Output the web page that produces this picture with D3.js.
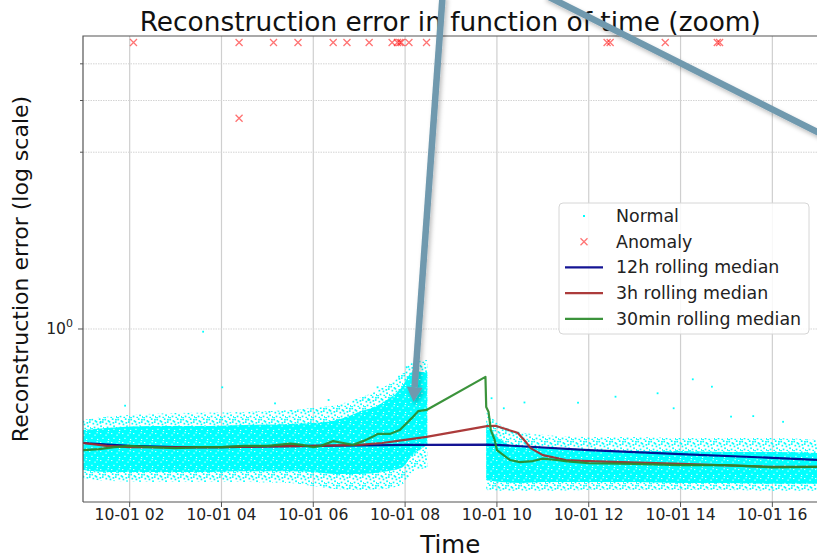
<!DOCTYPE html>
<html>
<head>
<meta charset="utf-8">
<script src="https://cdn.jsdelivr.net/npm/d3@7"></script>
<style>
  body { margin: 0; background: #fff; }
  svg { display: block; font-family: "DejaVu Sans", sans-serif; }
</style>
</head>
<body>
<svg id="chart" width="817" height="558"></svg>
<script>
// ---- data -------------------------------------------------------------
const timeDomain = ["10-01 00:59", "10-01 16:59"];
const xTickTimes = ["10-01 02:00", "10-01 04:00", "10-01 06:00", "10-01 08:00",
                    "10-01 10:00", "10-01 12:00", "10-01 14:00", "10-01 16:00"];
const yDomain = [0.2575, 9.95];
const yMajorTicks = [1];
const yMinorTicks = [4, 6, 8];

// envelope of the dense cloud of normal points (null = no data)
const cloudTimes = ["10-01 00:59", "10-01 01:30", "10-01 02:30", "10-01 03:30", "10-01 04:30",
                    "10-01 05:30", "10-01 06:00", "10-01 06:30", "10-01 07:00", "10-01 07:30",
                    "10-01 07:55", "10-01 08:10", "10-01 08:29", "10-01 08:30",
                    "10-01 09:46", "10-01 10:05", "10-01 10:30", "10-01 11:00", "10-01 12:00",
                    "10-01 13:00", "10-01 14:00", "10-01 15:00", "10-01 16:00", "10-01 16:59"];
const cloudOuterHigh = [0.490, 0.502, 0.514, 0.518, 0.522, 0.530, 0.538, 0.551, 0.582, 0.630,
                        0.697, 0.772, 0.784, null,
                        0.522, 0.471, 0.446, 0.436, 0.429, 0.429, 0.425, 0.425, 0.425, 0.419];
const cloudCoreHigh  = [0.453, 0.460, 0.467, 0.467, 0.471, 0.475, 0.478, 0.490, 0.522, 0.560,
                        0.630, 0.714, 0.714, null,
                        0.471, 0.419, 0.396, 0.393, 0.387, 0.384, 0.384, 0.381, 0.381, 0.378];
const cloudCoreLow   = [0.331, 0.326, 0.326, 0.326, 0.328, 0.328, 0.326, 0.321, 0.321, 0.326,
                        0.336, 0.372, 0.403, null,
                        0.306, 0.301, 0.299, 0.301, 0.301, 0.301, 0.299, 0.299, 0.297, 0.297];
const cloudOuterLow  = [0.311, 0.304, 0.301, 0.301, 0.301, 0.299, 0.292, 0.285, 0.283, 0.285,
                        0.294, 0.326, 0.336, null,
                        0.283, 0.281, 0.281, 0.281, 0.283, 0.283, 0.283, 0.283, 0.281, 0.281];

// isolated normal points away from the cloud
const outlierTimes  = ["10-01 01:22", "10-01 01:54", "10-01 03:36", "10-01 04:01", "10-01 05:10",
                       "10-01 06:20", "10-01 07:12", "10-01 07:24", "10-01 07:52", "10-01 08:02",
                       "10-01 08:22", "10-01 09:53", "10-01 10:09", "10-01 10:36", "10-01 11:46",
                       "10-01 12:35", "10-01 13:30", "10-01 13:51", "10-01 14:16", "10-01 14:41",
                       "10-01 15:06", "10-01 15:35", "10-01 16:14"];
const outlierValues = [0.483, 0.548, 0.979, 0.633, 0.558,
                       0.573, 0.573, 0.633, 0.688, 0.741,
                       0.705, 0.581, 0.537, 0.562, 0.561,
                       0.588, 0.604, 0.537, 0.674, 0.636,
                       0.503, 0.505, 0.483];

// anomalies
const anomalyTimes  = ["10-01 02:05", "10-01 04:23", "10-01 04:23", "10-01 05:08", "10-01 05:40",
                       "10-01 06:26", "10-01 06:44", "10-01 07:13", "10-01 07:43", "10-01 07:50",
                       "10-01 07:53", "10-01 07:55", "10-01 08:05", "10-01 08:28", "10-01 12:24",
                       "10-01 12:28", "10-01 13:40", "10-01 14:48", "10-01 14:51"];
const anomalyValues = [9.46, 9.46, 5.22, 9.46, 9.46,
                       9.46, 9.46, 9.46, 9.46, 9.46,
                       9.46, 9.46, 9.46, 9.46, 9.46,
                       9.46, 9.46, 9.46, 9.46];

// rolling medians
const median12hTimes  = ["10-01 00:59", "10-01 02:00", "10-01 03:00", "10-01 04:00", "10-01 05:00",
                         "10-01 06:00", "10-01 07:00", "10-01 08:00", "10-01 08:28", "10-01 09:47",
                         "10-01 10:00", "10-01 12:00", "10-01 14:00", "10-01 16:00", "10-01 16:59"];
const median12hValues = [0.409, 0.400, 0.396, 0.396, 0.398,
                         0.400, 0.401, 0.403, 0.403, 0.404,
                         0.403, 0.387, 0.375, 0.364, 0.358];

const median3hTimes  = ["10-01 00:59", "10-01 01:30", "10-01 02:00", "10-01 03:00", "10-01 04:00",
                        "10-01 05:00", "10-01 06:00", "10-01 07:00", "10-01 07:30", "10-01 08:00",
                        "10-01 08:28", "10-01 09:47", "10-01 09:58", "10-01 10:27", "10-01 10:37",
                        "10-01 10:44", "10-01 11:00", "10-01 11:30", "10-01 12:00", "10-01 14:00",
                        "10-01 16:00", "10-01 16:59"];
const median3hValues = [0.409, 0.400, 0.396, 0.395, 0.396,
                        0.398, 0.400, 0.403, 0.409, 0.419,
                        0.429, 0.467, 0.468, 0.443, 0.415,
                        0.393, 0.372, 0.358, 0.355, 0.347,
                        0.339, 0.339];

const median30Times  = ["10-01 00:59", "10-01 01:20", "10-01 01:40", "10-01 02:00", "10-01 02:30",
                        "10-01 03:00", "10-01 03:30", "10-01 04:00", "10-01 04:30", "10-01 05:00",
                        "10-01 05:30", "10-01 05:45", "10-01 06:00", "10-01 06:10", "10-01 06:26",
                        "10-01 06:39", "10-01 06:52", "10-01 07:05", "10-01 07:18", "10-01 07:24",
                        "10-01 07:40", "10-01 07:53", "10-01 08:09", "10-01 08:17", "10-01 08:28",
                        "10-01 09:45", "10-01 09:46", "10-01 09:49", "10-01 09:52", "10-01 09:57",
                        "10-01 10:00", "10-01 10:17", "10-01 10:30", "10-01 10:47", "10-01 11:00",
                        "10-01 11:18", "10-01 11:32", "10-01 12:00", "10-01 13:00", "10-01 14:00",
                        "10-01 15:00", "10-01 16:00", "10-01 16:59"];
const median30Values = [0.387, 0.390, 0.396, 0.400, 0.396,
                        0.393, 0.396, 0.396, 0.400, 0.400,
                        0.407, 0.403, 0.396, 0.400, 0.415,
                        0.409, 0.403, 0.415, 0.430, 0.439,
                        0.439, 0.453, 0.498, 0.525, 0.530,
                        0.687, 0.542, 0.523, 0.453, 0.419,
                        0.387, 0.358, 0.352, 0.355, 0.362,
                        0.358, 0.354, 0.349, 0.347, 0.344,
                        0.344, 0.338, 0.339];

// callout arrows: [time, value] of tail and tip
const callouts = [
  { from: ["10-01 08:49", 13.7], to: ["10-01 08:11", 0.564], head: true },
  { from: ["10-01 11:03", 13.7], to: ["10-01 17:22", 4.37], head: false }
];

const legendLabels = ["Normal", "Anomaly", "12h rolling median", "3h rolling median", "30min rolling median"];

// ---- layout -----------------------------------------------------------
const parse = d3.timeParse("%m-%d %H:%M");
const svg = d3.select("#chart");
const plot = { left: 83, right: 817.5, top: 36, bottom: 502 };

const x = d3.scaleTime().domain(timeDomain.map(parse)).range([plot.left, plot.right]);
const y = d3.scaleLog().domain(yDomain).range([plot.bottom, plot.top]);

const colors = { normal: "#00ffff", anomaly: "#ff0000", m12: "#00008b", m3: "#a52a2a", m30: "#2a8a2a" };

const defs = svg.append("defs");
defs.append("clipPath").attr("id", "plotClip")
  .append("rect").attr("x", plot.left).attr("y", plot.top)
  .attr("width", plot.right - plot.left).attr("height", plot.bottom - plot.top);

// speckled fill for the sparse fringe of the cloud
const fringe = defs.append("pattern").attr("id", "speckle").attr("patternUnits", "userSpaceOnUse")
  .attr("width", 13).attr("height", 11);
[[0.4, 0.7], [3.6, 2.1], [7.8, 0.3], [10.9, 3.2], [1.5, 4.8], [5.6, 5.6], [9.2, 7.4],
 [12.0, 9.1], [2.7, 8.6], [6.4, 9.8], [4.6, 3.0], [8.5, 4.0], [0.2, 10.0], [11.1, 0.9]].forEach(([px, py]) =>
  fringe.append("rect").attr("x", px).attr("y", py).attr("width", 1.7).attr("height", 1.7).attr("fill", colors.normal));

// dense fill for the core of the cloud: cyan with a few white gaps
const core = defs.append("pattern").attr("id", "dense").attr("patternUnits", "userSpaceOnUse")
  .attr("width", 11).attr("height", 9);
core.append("rect").attr("width", 11).attr("height", 9).attr("fill", colors.normal);
[[1.2, 1.0], [6.5, 2.6], [3.4, 5.8], [9.1, 6.9], [8.6, 0.2]].forEach(([px, py]) =>
  core.append("rect").attr("x", px).attr("y", py).attr("width", 1.1).attr("height", 1.1).attr("fill", "#fff"));

const shadow = defs.append("filter").attr("id", "shadow")
  .attr("x", "-50%").attr("y", "-50%").attr("width", "200%").attr("height", "200%");
shadow.append("feDropShadow").attr("dx", 2).attr("dy", 3).attr("stdDeviation", 2)
  .attr("flood-color", "#000").attr("flood-opacity", 0.25);

// ---- grid -------------------------------------------------------------
const grid = svg.append("g");
grid.selectAll("line.vg").data(xTickTimes).join("line")
  .attr("x1", d => x(parse(d))).attr("x2", d => x(parse(d)))
  .attr("y1", plot.top).attr("y2", plot.bottom)
  .attr("stroke", "#cfcfcf").attr("stroke-width", 1.2);
grid.selectAll("line.hg").data(yMajorTicks.concat(yMinorTicks)).join("line")
  .attr("x1", plot.left).attr("x2", plot.right)
  .attr("y1", d => y(d)).attr("y2", d => y(d))
  .attr("stroke", "#d4d4d4").attr("stroke-width", 1).attr("stroke-dasharray", "1.5,1");

// ---- marks ------------------------------------------------------------
const g = svg.append("g").attr("clip-path", "url(#plotClip)");

const cloud = cloudTimes.map((t, i) => ({
  t: parse(t), oh: cloudOuterHigh[i], ch: cloudCoreHigh[i], cl: cloudCoreLow[i], ol: cloudOuterLow[i]
}));
const defined = d => d.oh != null;
g.append("path").datum(cloud)
  .attr("d", d3.area().defined(defined).curve(d3.curveMonotoneX)
    .x(d => x(d.t)).y0(d => y(d.ol)).y1(d => y(d.oh)))
  .attr("fill", "url(#speckle)");
g.append("path").datum(cloud)
  .attr("d", d3.area().defined(defined).curve(d3.curveMonotoneX)
    .x(d => x(d.t)).y0(d => y(d.cl)).y1(d => y(d.ch)))
  .attr("fill", "url(#dense)");

g.selectAll("rect.out").data(outlierTimes.map((t, i) => [parse(t), outlierValues[i]])).join("rect")
  .attr("x", d => x(d[0]) - 0.9).attr("y", d => y(d[1]) - 0.9)
  .attr("width", 1.8).attr("height", 1.8).attr("fill", colors.normal);

const xMark = (s) => `M${-s},${-s}L${s},${s}M${-s},${s}L${s},${-s}`;
g.selectAll("path.anom").data(anomalyTimes.map((t, i) => [parse(t), anomalyValues[i]])).join("path")
  .attr("transform", d => `translate(${x(d[0])},${y(d[1])})`)
  .attr("d", xMark(3.5))
  .attr("stroke", colors.anomaly).attr("stroke-opacity", 0.55).attr("stroke-width", 1.3).attr("fill", "none");

const line = d3.line().x(d => x(d[0])).y(d => y(d[1]));
[[median12hTimes, median12hValues, colors.m12],
 [median3hTimes, median3hValues, colors.m3],
 [median30Times, median30Values, colors.m30]].forEach(([ts, vs, c]) => {
  g.append("path").datum(ts.map((t, i) => [parse(t), vs[i]]))
    .attr("d", line).attr("fill", "none").attr("stroke", c)
    .attr("stroke-width", 2.2).attr("stroke-linejoin", "round").attr("stroke-opacity", 0.92);
});

// ---- axes -------------------------------------------------------------
const axisColor = "#555";
svg.append("path")
  .attr("d", `M${plot.left},${plot.bottom}V${plot.top}H${plot.right}M${plot.left},${plot.bottom}H${plot.right}`)
  .attr("fill", "none").attr("stroke", axisColor).attr("stroke-width", 1.2);

const fmt = d3.timeFormat("%m-%d %H");
const xAxis = svg.append("g");
xTickTimes.forEach(t => {
  const px = x(parse(t));
  xAxis.append("line").attr("x1", px).attr("x2", px).attr("y1", plot.bottom).attr("y2", plot.bottom + 5)
    .attr("stroke", axisColor).attr("stroke-width", 1);
  xAxis.append("text").attr("x", px).attr("y", 520).attr("text-anchor", "middle")
    .attr("font-size", 15.6).attr("fill", "#222").text(fmt(parse(t)));
});

const yAxis = svg.append("g");
yMajorTicks.forEach(v => {
  const py = y(v);
  yAxis.append("line").attr("x1", plot.left - 5).attr("x2", plot.left).attr("y1", py).attr("y2", py)
    .attr("stroke", axisColor);
  const txt = yAxis.append("text").attr("x", plot.left - 10).attr("y", py + 5.5)
    .attr("text-anchor", "end").attr("font-size", 15.6).attr("fill", "#222");
  txt.append("tspan").text("10");
  txt.append("tspan").attr("dy", -7).attr("font-size", 11).text(Math.round(Math.log10(v)));
});
yMinorTicks.forEach(v => {
  const py = y(v);
  yAxis.append("line").attr("x1", plot.left - 3).attr("x2", plot.left).attr("y1", py).attr("y2", py)
    .attr("stroke", axisColor);
});

svg.append("text").attr("x", (plot.left + plot.right) / 2).attr("y", 30.5)
  .attr("text-anchor", "middle").attr("font-size", 26.4).attr("fill", "#111")
  .text("Reconstruction error in function of time (zoom)");
svg.append("text").attr("x", (plot.left + plot.right) / 2).attr("y", 553)
  .attr("text-anchor", "middle").attr("font-size", 24.5).attr("fill", "#111").text("Time");
svg.append("text").attr("transform", `translate(28,${(plot.top + plot.bottom) / 2}) rotate(-90)`)
  .attr("text-anchor", "middle").attr("font-size", 22).attr("fill", "#111")
  .text("Reconstruction error (log scale)");

// ---- legend -----------------------------------------------------------
const lg = svg.append("g");
lg.append("rect").attr("x", 559).attr("y", 203).attr("width", 250).attr("height", 131).attr("rx", 4)
  .attr("fill", "#fff").attr("fill-opacity", 0.85).attr("stroke", "#d6d6d6");
const rowY = (i) => 216 + i * 25.7;
lg.append("rect").attr("x", 583).attr("y", rowY(0) - 1).attr("width", 2).attr("height", 2).attr("fill", colors.normal);
lg.append("path").attr("transform", `translate(584,${rowY(1)})`).attr("d", xMark(3.5))
  .attr("stroke", colors.anomaly).attr("stroke-opacity", 0.55).attr("stroke-width", 1.3);
[colors.m12, colors.m3, colors.m30].forEach((c, i) => {
  lg.append("line").attr("x1", 565).attr("x2", 603).attr("y1", rowY(i + 2)).attr("y2", rowY(i + 2))
    .attr("stroke", c).attr("stroke-width", 2.2).attr("stroke-opacity", 0.92);
});
legendLabels.forEach((l, i) => {
  lg.append("text").attr("x", 616).attr("y", rowY(i) + 6).attr("font-size", 17.4).attr("fill", "#222").text(l);
});

// ---- callout arrows ---------------------------------------------------
const ag = svg.append("g").attr("filter", "url(#shadow)");
const arrowColor = "#7099ae";
callouts.forEach(c => {
  const x0 = x(parse(c.from[0])), y0 = y(c.from[1]);
  const x1 = x(parse(c.to[0])), y1 = y(c.to[1]);
  const len = Math.hypot(x1 - x0, y1 - y0), ux = (x1 - x0) / len, uy = (y1 - y0) / len;
  const headLen = c.head ? 15 : 0;
  ag.append("line").attr("x1", x0).attr("y1", y0)
    .attr("x2", x1 - ux * headLen).attr("y2", y1 - uy * headLen)
    .attr("stroke", arrowColor).attr("stroke-width", 6.5);
  if (c.head) {
    const bx = x1 - ux * headLen, by = y1 - uy * headLen, hw = 8;
    ag.append("path")
      .attr("d", `M${x1},${y1}L${bx - uy * hw},${by + ux * hw}L${bx + uy * hw},${by - ux * hw}Z`)
      .attr("fill", arrowColor);
  }
});
</script>
</body>
</html>
